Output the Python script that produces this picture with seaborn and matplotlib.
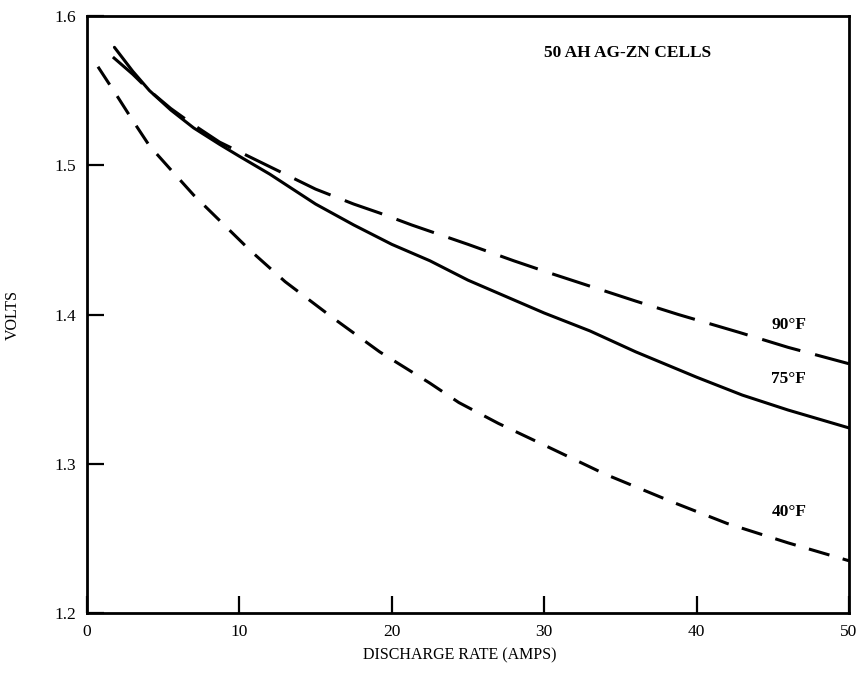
import numpy as np
import pandas as pd
import matplotlib
matplotlib.use("Agg")
import matplotlib.pyplot as plt
import seaborn as sns

# ---- data ----
x_90 = [1.7, 3.0, 4.1, 5.5, 7.0, 8.7, 10.0, 11.5, 13.0, 15.0, 17.5, 19.2, 21.3, 25.0, 28.0, 30.6, 33.0, 36.0, 38.8, 42.8, 46.0, 50.0]
v_90 = [1.5725, 1.561, 1.550, 1.538, 1.527, 1.5155, 1.509, 1.5015, 1.494, 1.484, 1.474, 1.468, 1.460, 1.447, 1.436, 1.427, 1.419, 1.409, 1.400, 1.388, 1.378, 1.367]

x_75 = [1.8, 3.0, 4.1, 5.5, 7.0, 8.7, 10.0, 12.0, 15.0, 17.5, 20.0, 22.5, 25.0, 27.5, 30.0, 33.0, 36.0, 40.0, 43.0, 46.0, 50.0]
v_75 = [1.579, 1.563, 1.550, 1.537, 1.525, 1.514, 1.506, 1.494, 1.474, 1.460, 1.447, 1.436, 1.423, 1.412, 1.401, 1.389, 1.375, 1.358, 1.346, 1.336, 1.324]

x_40 = [0.72, 2.0, 3.0, 4.1, 5.5, 7.0, 9.2, 10.7, 13.0, 16.1, 19.2, 22.5, 24.4, 27.0, 30.0, 34.0, 38.5, 42.0, 46.0, 50.0]
v_40 = [1.566, 1.546, 1.530, 1.513, 1.497, 1.480, 1.458, 1.443, 1.422, 1.398, 1.375, 1.354, 1.341, 1.327, 1.3125, 1.293, 1.274, 1.260, 1.247, 1.235]

series_names = ["90°F", "75°F", "40°F"]
x_ticks = [0, 10, 20, 30, 40, 50]
y_ticks = [1.2, 1.3, 1.4, 1.5, 1.6]
y_tick_labels = ["1.2", "1.3", "1.4", "1.5", "1.6"]
title_text = "50 AH AG-ZN CELLS"
x_label = "DISCHARGE RATE (AMPS)"
y_label = "VOLTS"

df = pd.concat([
    pd.DataFrame({"rate": x_90, "volts": v_90, "temp": series_names[0]}),
    pd.DataFrame({"rate": x_75, "volts": v_75, "temp": series_names[1]}),
    pd.DataFrame({"rate": x_40, "volts": v_40, "temp": series_names[2]}),
], ignore_index=True)

sns.set_theme(style="white")
plt.rcParams["font.family"] = ["Liberation Serif", "DejaVu Serif"]
plt.rcParams["text.color"] = "black"

fig = plt.figure(figsize=(8.6, 6.83), dpi=100)
ax = fig.add_axes([87/860, 70/683, (849-87)/860, (613-16)/683])

dashes = {series_names[0]: (13, 5), series_names[1]: "", series_names[2]: (7, 4.5)}
sns.lineplot(data=df, x="rate", y="volts", hue="temp", style="temp",
             palette={n: "black" for n in series_names}, dashes=dashes,
             linewidth=2.2, sort=False, estimator=None, legend=False, ax=ax)

ax.set_xlim(0, 50)
ax.set_ylim(1.2, 1.6)
ax.set_xticks(x_ticks)
ax.set_xticklabels([str(t) for t in x_ticks])
ax.set_yticks(y_ticks)
ax.set_yticklabels(y_tick_labels)
ax.tick_params(bottom=True, left=True, top=False, right=False,
               direction="in", length=12, width=1.6, colors="black",
               labelcolor="black", labelsize=12.5)
ax.tick_params(axis="x", pad=8)
ax.tick_params(axis="y", pad=8)
for s in ax.spines.values():
    s.set_color("black")
    s.set_linewidth(2.0)

ax.set_xlabel(x_label, fontsize=11.5, color="black")
ax.set_ylabel(y_label, fontsize=11.5, color="black")
ax.xaxis.set_label_coords((460 - 87) / 762, -(34 / 597))
ax.yaxis.set_label_coords((21 - 87) / 762, 0.5)

txt_kw = dict(fontsize=12.5, fontweight="bold", va="center", ha="left", color="black")
ax.text(30.0, 1.575, title_text, **txt_kw)
ax.text(44.9, 1.393, series_names[0], **txt_kw)
ax.text(44.9, 1.357, series_names[1], **txt_kw)
ax.text(44.9, 1.268, series_names[2], **txt_kw)

fig.savefig("out.png", dpi=100, facecolor="white")
